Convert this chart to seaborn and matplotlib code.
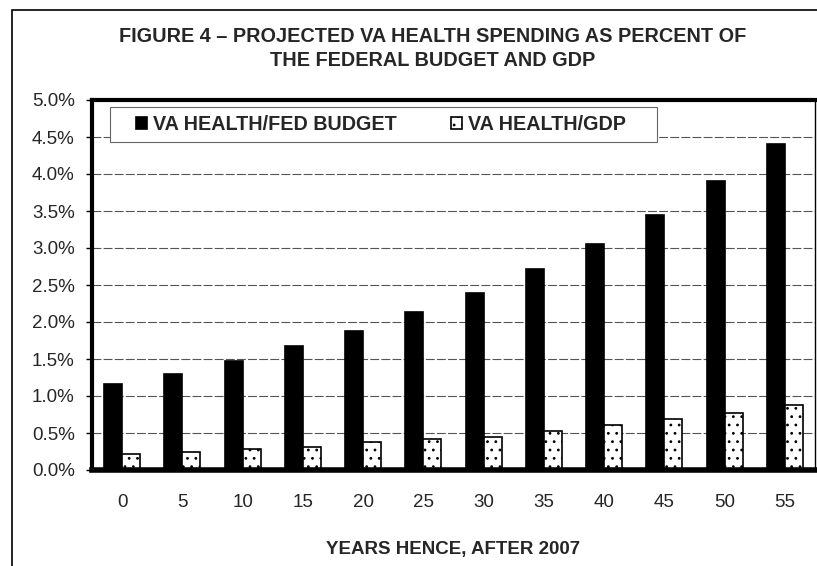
import numpy as np
import pandas as pd
import matplotlib
matplotlib.use("Agg")
import matplotlib.pyplot as plt
import seaborn as sns
from matplotlib.patches import Rectangle

years = [0, 5, 10, 15, 20, 25, 30, 35, 40, 45, 50, 55]
fed_budget = [1.16, 1.30, 1.47, 1.67, 1.88, 2.13, 2.39, 2.71, 3.06, 3.45, 3.91, 4.41]
gdp = [0.22, 0.25, 0.29, 0.31, 0.38, 0.42, 0.45, 0.53, 0.61, 0.69, 0.77, 0.875]
series_names = ["VA HEALTH/FED BUDGET", "VA HEALTH/GDP"]
y_ticks = [0.0, 0.5, 1.0, 1.5, 2.0, 2.5, 3.0, 3.5, 4.0, 4.5, 5.0]

df = pd.DataFrame({
    "year": [str(y) for y in years] * 2,
    "value": fed_budget + gdp,
    "series": [series_names[0]] * len(years) + [series_names[1]] * len(years),
})

sns.set_style("white")
plt.rcParams["font.family"] = ["Liberation Sans", "DejaVu Sans"]
plt.rcParams["hatch.linewidth"] = 0.8

fig = plt.figure(figsize=(8.17, 5.66), dpi=100)
ax = fig.add_axes([92 / 817, 1 - 470 / 566, 723 / 817, 370 / 566])

sns.barplot(data=df, x="year", y="value", hue="series", order=[str(y) for y in years],
            palette=["black", "white"], width=0.6, edgecolor="black", linewidth=1.2,
            saturation=1, ax=ax, legend=True)

# dotted fill for the GDP series
for bar in ax.containers[1]:
    bar.set_hatch("..")
    bar.set_edgecolor("black")

ax.set_xlim(-0.5, len(years) - 0.5)
ax.set_ylim(0, 5.0)
ax.set_yticks(y_ticks)
ax.set_yticklabels([f"{t:.1f}%" for t in y_ticks], fontsize=13.5)
ax.yaxis.grid(True, color="#555555", linewidth=0.8, linestyle=(0, (8, 2)))
ax.set_axisbelow(True)

ax.set_xticks(range(len(years)))
ax.set_xticklabels([str(y) for y in years], fontsize=13.5)
ax.set_xticks(np.arange(-0.5, len(years), 1.0), minor=True)
ax.tick_params(axis="x", which="major", length=0, pad=17)
ax.tick_params(axis="x", which="minor", length=4, width=1, direction="out", color="black")
ax.tick_params(axis="y", length=4.5, width=1, direction="out", color="black", left=True, pad=8)

ax.set_xlabel("YEARS HENCE, AFTER 2007", fontsize=13.5, fontweight="bold", labelpad=22)
ax.set_ylabel("")

for side, lw in [("left", 3), ("top", 3), ("bottom", 4), ("right", 1)]:
    ax.spines[side].set_color("black")
    ax.spines[side].set_linewidth(lw)

# legend box drawn separately so the handles can sit well inside it
ax.add_patch(Rectangle((0.0249, 0.8865), 0.7566, 0.0945, transform=ax.transAxes,
                       facecolor="white", edgecolor="#666666", linewidth=0.8, zorder=4))
leg = ax.legend(loc="center left", bbox_to_anchor=(0.0615, 0.935), ncol=2, frameon=False,
                handlelength=0.55, handleheight=0.55, handletextpad=0.3, columnspacing=2.75,
                borderpad=0, borderaxespad=0, prop={"weight": "bold", "size": 14.2})
leg.set_zorder(5)
for h in leg.legend_handles:
    h.set_edgecolor("black")
leg.legend_handles[1].set_hatch("..")

fig.text(0.529, 1 - 36 / 566, "FIGURE 4 \u2013 PROJECTED VA HEALTH SPENDING AS PERCENT OF",
         ha="center", va="center", fontsize=14.3, fontweight="bold")
fig.text(0.529, 1 - 61 / 566, "THE FEDERAL BUDGET AND GDP",
         ha="center", va="center", fontsize=14.3, fontweight="bold")

fig.patches.append(Rectangle((12 / 817, -0.02), 1.0, 1 - 10 / 566 + 0.02, transform=fig.transFigure,
                             fill=False, edgecolor="black", linewidth=1.2))

fig.savefig("out.png", dpi=100)
